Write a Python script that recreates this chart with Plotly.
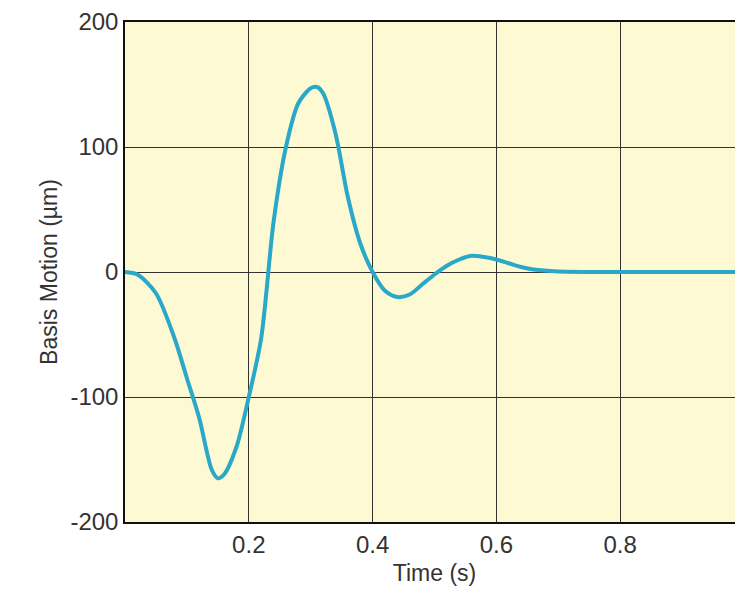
import plotly.graph_objects as go

t = [0, 0.02, 0.05, 0.08, 0.1, 0.12, 0.14, 0.15, 0.16, 0.18, 0.2, 0.22, 0.24, 0.26, 0.28, 0.3, 0.31, 0.32, 0.34, 0.36, 0.38, 0.4, 0.42, 0.44, 0.46, 0.48, 0.5, 0.52, 0.54, 0.56, 0.58, 0.6, 0.62, 0.64, 0.66, 0.7, 0.8, 0.9, 1.0]
motion = [0, -2, -17, -53, -85, -117, -158, -165, -162, -140, -100, -53, 40, 100, 135, 147, 148, 143, 111, 60, 23, 0, -15, -20, -18, -10, -2, 5, 10, 13, 12, 10, 7, 4, 2, 0.5, 0, 0, 0]
xticks = [0.2, 0.4, 0.6, 0.8, 1]
xticklabels = ["0.2", "0.4", "0.6", "0.8", "1"]
yticks = [-200, -100, 0, 100, 200]
yticklabels = ["-200", "-100", "0", "100", "200"]

fig = go.Figure(go.Scatter(x=t, y=motion, mode="lines",
                           line=dict(color="#2aa8c8", width=4, shape="spline", smoothing=0.8)))
fig.update_layout(
    width=743, height=600, margin=dict(l=117, r=7, t=14, b=86, autoexpand=False),
    plot_bgcolor="#fdf9d3", paper_bgcolor="white", showlegend=False,
    font=dict(family="Liberation Sans, Arial", size=24, color="#333"),
)
ax = dict(showgrid=True, gridcolor="#333", gridwidth=1, showline=True, linecolor="#111",
          linewidth=1.5, mirror=True, zeroline=False, ticks="", automargin=False)
fig.update_xaxes(range=[0, 1], tickvals=xticks, ticktext=xticklabels,
                 title=dict(text="Time (s)", standoff=8, font=dict(size=23)), **ax)
fig.update_yaxes(range=[-200, 200], tickvals=yticks, ticktext=yticklabels,
                 title=dict(text="Basis Motion (µm)", standoff=6, font=dict(size=23)), **ax)
fig.write_html("out.html")
